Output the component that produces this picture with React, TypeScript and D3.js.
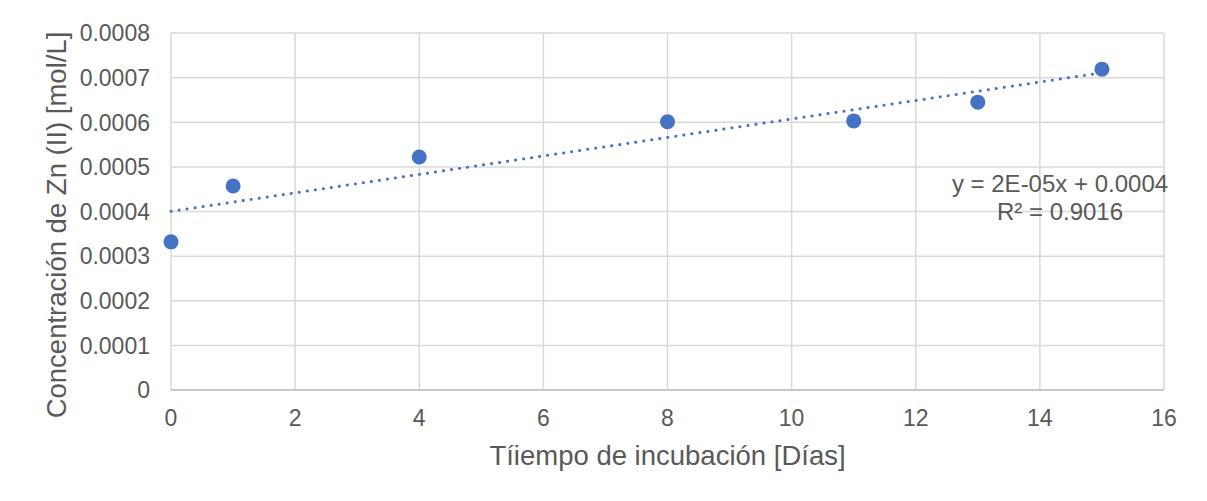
import * as d3 from 'd3';
import React from 'react';

// days of incubation and measured Zn(II) concentration [mol/L]
const days = [0, 1, 4, 8, 11, 13, 15];
const zinc = [0.000332, 0.000457, 0.000522, 0.000601, 0.000603, 0.000645, 0.000719];

const xTicks = [0, 2, 4, 6, 8, 10, 12, 14, 16];
const yTicks = [0, 0.0001, 0.0002, 0.0003, 0.0004, 0.0005, 0.0006, 0.0007, 0.0008];

const xTitle = 'Tíiempo de incubación [Días]';
const yTitle = 'Concentración de Zn (II) [mol/L]';
const eqLines = ['y = 2E-05x + 0.0004', 'R² = 0.9016'];

const W = 1207;
const H = 501;
const FONT = '"Liberation Sans", Arial, sans-serif';
const TXT = '#595959';
const GRID = '#d9d9d9';
const BLUE = '#4472c4';

// least squares fit, same as the trendline the spreadsheet draws
function linearFit(xs: number[], ys: number[]) {
  const mx = d3.mean(xs)!;
  const my = d3.mean(ys)!;
  let sxy = 0;
  let sxx = 0;
  xs.forEach((x, i) => {
    sxy += (x - mx) * (ys[i] - my);
    sxx += (x - mx) * (x - mx);
  });
  const slope = sxy / sxx;
  return { slope, intercept: my - slope * mx };
}

export default function App() {
  const margin = { top: 33, right: 43, bottom: 111, left: 171 };
  const innerW = W - margin.left - margin.right;
  const innerH = H - margin.top - margin.bottom;

  const x = d3.scaleLinear().domain([0, 16]).range([0, innerW]);
  const y = d3.scaleLinear().domain([0, 0.0008]).range([innerH, 0]);

  const fit = linearFit(days, zinc);
  const xMin = d3.min(days)!;
  const xMax = d3.max(days)!;
  const trend = d3.line<number>()
    .x((d) => x(d))
    .y((d) => y(fit.intercept + fit.slope * d));

  return (
    <div style={{ margin: -8 }}>
      <svg width={W} height={H} style={{ display: 'block', fontFamily: FONT }}>
        <rect x={0} y={0} width={W} height={H} fill="#fff" />
        <rect x={4.5} y={4.5} width={1201} height={495} fill="#fff" stroke={GRID} strokeWidth={1} />
        <g transform={`translate(${margin.left},${margin.top})`}>
          {yTicks.map((t) => (
            <line key={'gy' + t} x1={0} x2={innerW} y1={y(t)} y2={y(t)} stroke={GRID} strokeWidth={1.5} />
          ))}
          {xTicks.map((t) => (
            <line key={'gx' + t} x1={x(t)} x2={x(t)} y1={0} y2={innerH} stroke={GRID} strokeWidth={1.5} />
          ))}
          <line x1={0} x2={innerW} y1={innerH} y2={innerH} stroke="#bfbfbf" strokeWidth={1.5} />

          {yTicks.map((t) => (
            <text key={'ly' + t} x={-21} y={y(t)} dy="0.36em" textAnchor="end" fontSize={23} fill={TXT}>
              {t === 0 ? '0' : t.toFixed(4)}
            </text>
          ))}
          {xTicks.map((t) => (
            <text key={'lx' + t} x={x(t)} y={innerH + 36} textAnchor="middle" fontSize={23} fill={TXT}>
              {t}
            </text>
          ))}

          <path
            d={trend([xMin, xMax]) || ''}
            fill="none"
            stroke={BLUE}
            strokeWidth={3}
            strokeDasharray="0.1 8"
            strokeLinecap="round"
          />
          {days.map((d, i) => (
            <circle key={d} cx={x(d)} cy={y(zinc[i])} r={7.5} fill={BLUE} />
          ))}

          <text x={889} y={159} textAnchor="middle" fontSize={24} fill={TXT}>
            {eqLines.map((l, i) => (
              <tspan key={l} x={889} dy={i === 0 ? 0 : 28}>{l}</tspan>
            ))}
          </text>
        </g>
        <text x={margin.left + innerW / 2} y={465} textAnchor="middle" fontSize={27.5} fill={TXT}>
          {xTitle}
        </text>
        <text
          transform={`translate(${66},${225}) rotate(-90)`}
          textAnchor="middle"
          fontSize={27.5}
          fill={TXT}
        >
          {yTitle}
        </text>
      </svg>
    </div>
  );
}
